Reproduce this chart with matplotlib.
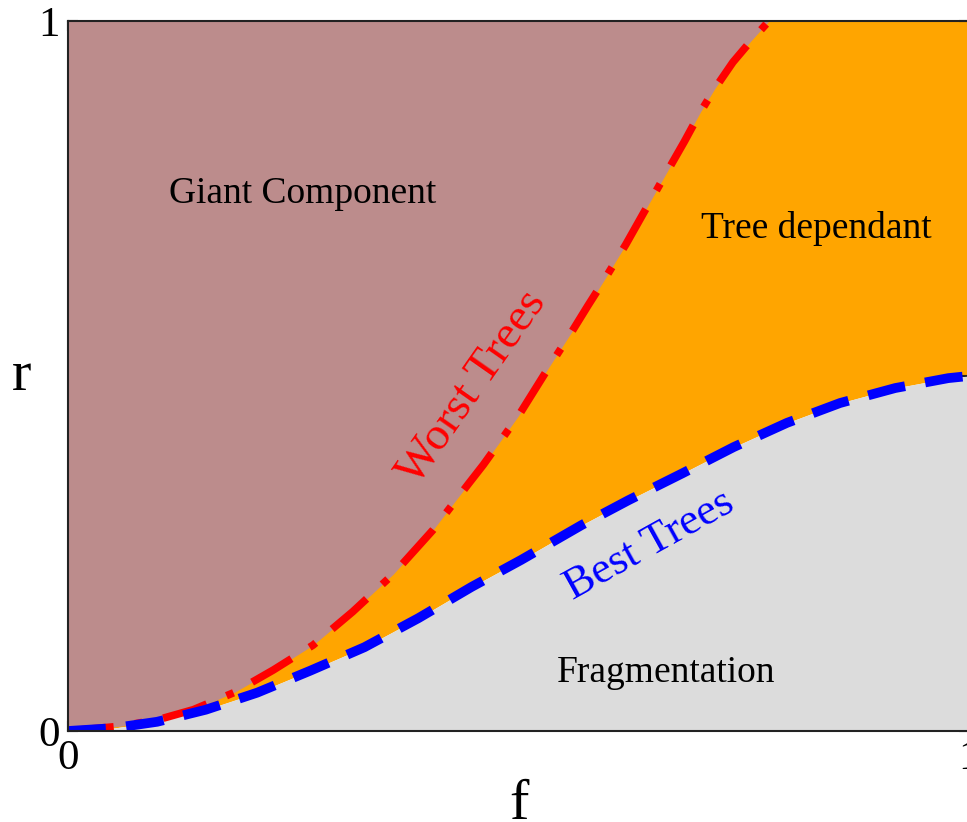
import matplotlib
matplotlib.use("Agg")
import matplotlib.pyplot as plt

plt.rcParams['font.family'] = ['Liberation Serif', 'DejaVu Serif']

# Phase boundaries r(f)
f_worst = [0.0, 0.06, 0.10, 0.139, 0.184, 0.228, 0.272, 0.316, 0.361, 0.405,
           0.445, 0.461, 0.50, 0.533, 0.559, 0.577, 0.595, 0.619, 0.639, 0.661,
           0.684, 0.702, 0.718, 0.738, 0.758, 0.778]
r_worst = [0.0, 0.007, 0.016, 0.030, 0.054, 0.086, 0.121, 0.168, 0.221, 0.283,
           0.349, 0.375, 0.444, 0.511, 0.562, 0.599, 0.635, 0.685, 0.730, 0.779,
           0.830, 0.872, 0.905, 0.942, 0.972, 1.0]

f_best = [0.0, 0.05, 0.099, 0.153, 0.210, 0.269, 0.329, 0.389, 0.448, 0.503,
          0.570, 0.622, 0.682, 0.739, 0.798, 0.857, 0.918, 0.977, 1.0]
r_best = [0.0, 0.004, 0.013, 0.030, 0.054, 0.085, 0.118, 0.159, 0.203, 0.241,
          0.290, 0.325, 0.363, 0.400, 0.434, 0.462, 0.483, 0.497, 0.5]

tick_vals = [0, 0.5, 1]
tick_labels = ["0", "", "1"]

W, H = 967, 822
fig = plt.figure(figsize=(W / 100, H / 100), dpi=100)
ax = fig.add_axes([68 / W, (H - 731) / H, (969 - 68) / W, (731 - 21) / H])

# Regions
ax.fill_between(f_best, r_best, 1, color="#FFA500", linewidth=0, zorder=1)
ax.fill_between(f_worst, r_worst, 1, color="#BC8C8C", linewidth=0, zorder=2)
ax.fill_between(f_best, 0, r_best, color="#DCDCDC", linewidth=0, zorder=2)

# Boundaries
ax.plot(f_worst, r_worst, color="#FF0000", linewidth=5.5,
        dashes=(6.0, 2.8, 1.0, 2.8), zorder=3)
ax.plot(f_best, r_best, color="#0000FF", linewidth=7,
        dashes=(3.9, 2.1), zorder=4)

ax.set_xlim(0, 1)
ax.set_ylim(0, 1)
ax.set_xticks(tick_vals)
ax.set_xticklabels(tick_labels)
ax.set_yticks(tick_vals)
ax.set_yticklabels(tick_labels)
ax.tick_params(direction="in", length=7, width=1.5, labelsize=31,
               top=True, right=True, pad=6, colors="#222222", labelcolor="black")
for s in ax.spines.values():
    s.set_linewidth(1.5)
    s.set_color("#222222")
    s.set_zorder(6)

ax.set_xlabel("f", fontsize=42)
ax.xaxis.set_label_coords(0.5, -0.068)
ax.set_ylabel("r", fontsize=42, rotation=0, ha="center", va="center")
ax.yaxis.set_label_coords(-0.051, 0.5)

# Region and curve labels
ax.text(0.26, 0.744, "Giant Component", fontsize=27, ha="center", va="baseline", zorder=7)
ax.text(0.83, 0.694, "Tree dependant", fontsize=27, ha="center", va="baseline", zorder=7)
ax.text(0.664, 0.069, "Fragmentation", fontsize=27, ha="center", va="baseline", zorder=7)
ax.text(0.449, 0.483, "Worst Trees", fontsize=34, color="#FF0000", rotation=55,
        ha="center", va="center", rotation_mode="anchor", zorder=7)
ax.text(0.645, 0.262, "Best Trees", fontsize=32, color="#0000FF", rotation=29,
        ha="center", va="center", rotation_mode="anchor", zorder=7)

fig.savefig("out.png", dpi=100)
